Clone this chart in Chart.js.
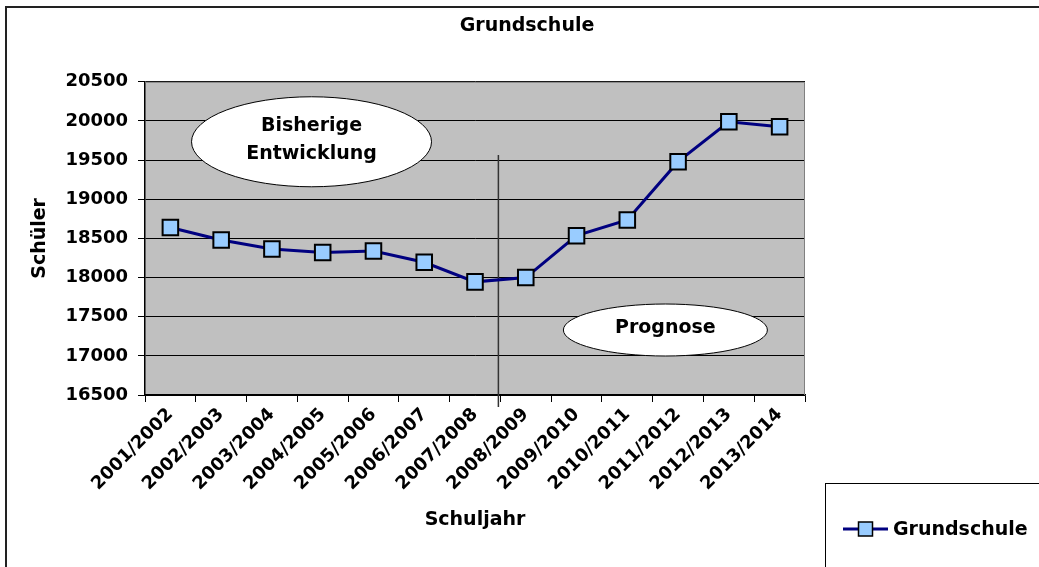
<!DOCTYPE html>
<html>
<head>
<meta charset="utf-8">
<script src="https://cdn.jsdelivr.net/npm/chart.js@4"></script>
<style>
  html, body { margin: 0; padding: 0; background: #fff; }
  #wrap { width: 1039px; height: 567px; }
</style>
</head>
<body>
<div id="wrap"><canvas id="chart"></canvas></div>
<script>
const schuljahre = ["2001/2002", "2002/2003", "2003/2004", "2004/2005", "2005/2006", "2006/2007", "2007/2008",
  "2008/2009", "2009/2010", "2010/2011", "2011/2012", "2012/2013", "2013/2014"];
const schueler = [18640, 18480, 18365, 18320, 18340, 18195, 17945, 18000, 18535, 18735, 19480, 19990, 19925];
const yTicks = [16500, 17000, 17500, 18000, 18500, 19000, 19500, 20000, 20500];

const fontFam = "'DejaVu Sans', sans-serif";

// Hintergrund, Trennlinie, Ellipsen, Legende
const deko = {
  id: "deko",
  beforeDraw(chart) {
    const { ctx, chartArea: a } = chart;
    ctx.save();
    ctx.fillStyle = "#c0c0c0";
    ctx.fillRect(a.left, a.top, a.right - a.left, a.bottom - a.top);
    ctx.restore();
  },
  beforeDatasetsDraw(chart) {
    const { ctx, chartArea: a, scales } = chart;
    ctx.save();
    ctx.strokeStyle = "#808080";
    ctx.lineWidth = 1;
    ctx.beginPath();
    ctx.moveTo(a.left, a.top + 0.5);
    ctx.lineTo(a.right - 0.5, a.top + 0.5);
    ctx.lineTo(a.right - 0.5, a.bottom);
    ctx.stroke();
    // Trennlinie zwischen Bisherige Entwicklung und Prognose
    const x = (scales.x.getPixelForValue(6) + scales.x.getPixelForValue(7)) / 2 - 2;
    ctx.strokeStyle = "#333";
    ctx.lineWidth = 1.5;
    ctx.beginPath();
    ctx.moveTo(x, scales.y.getPixelForValue(19565));
    ctx.lineTo(x, a.bottom + 12);
    ctx.stroke();
    ctx.restore();
  },
  afterDraw(chart) {
    const { ctx, scales } = chart;
    const ellipse = (ix, val, rx, ry, lines) => {
      const cx = scales.x.getPixelForValue(0) + ix * (scales.x.getPixelForValue(1) - scales.x.getPixelForValue(0));
      const cy = scales.y.getPixelForValue(val);
      ctx.beginPath();
      ctx.ellipse(cx, cy, rx, ry, 0, 0, Math.PI * 2);
      ctx.fillStyle = "#fff";
      ctx.fill();
      ctx.strokeStyle = "#000";
      ctx.lineWidth = 1;
      ctx.stroke();
      ctx.fillStyle = "#000";
      ctx.font = "bold 19px " + fontFam;
      ctx.textAlign = "center";
      ctx.textBaseline = "middle";
      const lh = 28;
      lines.forEach((t, i) => {
        ctx.fillText(t, cx, cy - 2 + (i - (lines.length - 1) / 2) * lh);
      });
    };
    ctx.save();
    ellipse(2.78, 19734, 120, 45, ["Bisherige", "Entwicklung"]);
    ellipse(9.75, 17330, 102, 26, ["Prognose"]);

    // Rahmen
    ctx.strokeStyle = "#222";
    ctx.lineWidth = 2;
    ctx.strokeRect(6, 7, 1100, 700);

    // Legende
    const ds = chart.data.datasets[0];
    ctx.lineWidth = 1;
    ctx.strokeStyle = "#000";
    ctx.strokeRect(825.5, 483.5, 300, 200);
    const ly = 529;
    ctx.strokeStyle = ds.borderColor;
    ctx.lineWidth = 3;
    ctx.beginPath();
    ctx.moveTo(843, ly);
    ctx.lineTo(888, ly);
    ctx.stroke();
    ctx.fillStyle = ds.pointBackgroundColor;
    ctx.fillRect(858.5, ly - 7, 14, 14);
    ctx.strokeStyle = "#000";
    ctx.lineWidth = 1.5;
    ctx.strokeRect(858.5, ly - 7, 14, 14);
    ctx.fillStyle = "#000";
    ctx.font = "bold 19px " + fontFam;
    ctx.textAlign = "left";
    ctx.textBaseline = "middle";
    ctx.fillText(ds.label, 893, ly + 1);
    ctx.restore();
  }
};

new Chart(document.getElementById("chart").getContext("2d"), {
  type: "line",
  data: {
    labels: schuljahre,
    datasets: [{
      label: "Grundschule",
      data: schueler,
      borderColor: "#000080",
      borderWidth: 3,
      tension: 0,
      pointStyle: "rect",
      pointRadius: 11,
      pointHoverRadius: 11,
      pointBackgroundColor: "#99ccff",
      pointBorderColor: "#000",
      pointBorderWidth: 2,
      clip: false
    }]
  },
  options: {
    responsive: true,
    maintainAspectRatio: false,
    animation: false,
    events: [],
    layout: { padding: { left: 15, right: 0, top: 0, bottom: 0 } },
    plugins: {
      legend: { display: false },
      tooltip: { enabled: false },
      title: {
        display: true,
        text: "Grundschule",
        color: "#000",
        font: { family: fontFam, size: 19, weight: "bold" },
        padding: { top: 15, bottom: 44 }
      }
    },
    scales: {
      x: {
        offset: true,
        grid: { offset: true, drawOnChartArea: false, drawTicks: true, tickLength: 7, color: "#000" },
        border: { color: "#000", width: 1.5 },
        ticks: {
          autoSkip: false, minRotation: 45, maxRotation: 45, padding: 2,
          color: "#000", font: { family: fontFam, size: 18, weight: "bold" }
        },
        title: {
          display: true, text: "Schuljahr", color: "#000",
          font: { family: fontFam, size: 19, weight: "bold" },
          padding: { top: 4, bottom: 36 }
        },
        afterFit(scale) { scale.height = 172; }
      },
      y: {
        min: yTicks[0],
        max: yTicks[yTicks.length - 1],
        afterBuildTicks(scale) { scale.ticks = yTicks.map(v => ({ value: v })); },
        grid: { color: "#000", lineWidth: 1, drawTicks: true, tickLength: 7 },
        border: { color: "#000", width: 1.5 },
        ticks: {
          padding: 10, color: "#000",
          font: { family: fontFam, size: 18, weight: "bold" },
          callback: (v) => String(v)
        },
        title: {
          display: true, text: "Schüler", color: "#000",
          font: { family: fontFam, size: 19, weight: "bold" },
          padding: { top: 14, bottom: 0 }
        },
        afterFit(scale) { scale.width = 130; }
      },
      rechts: {
        position: "right",
        display: true,
        grid: { display: false },
        border: { display: false },
        ticks: { display: false },
        afterFit(scale) { scale.width = 234; }
      }
    }
  },
  plugins: [deko]
});
</script>
</body>
</html>
